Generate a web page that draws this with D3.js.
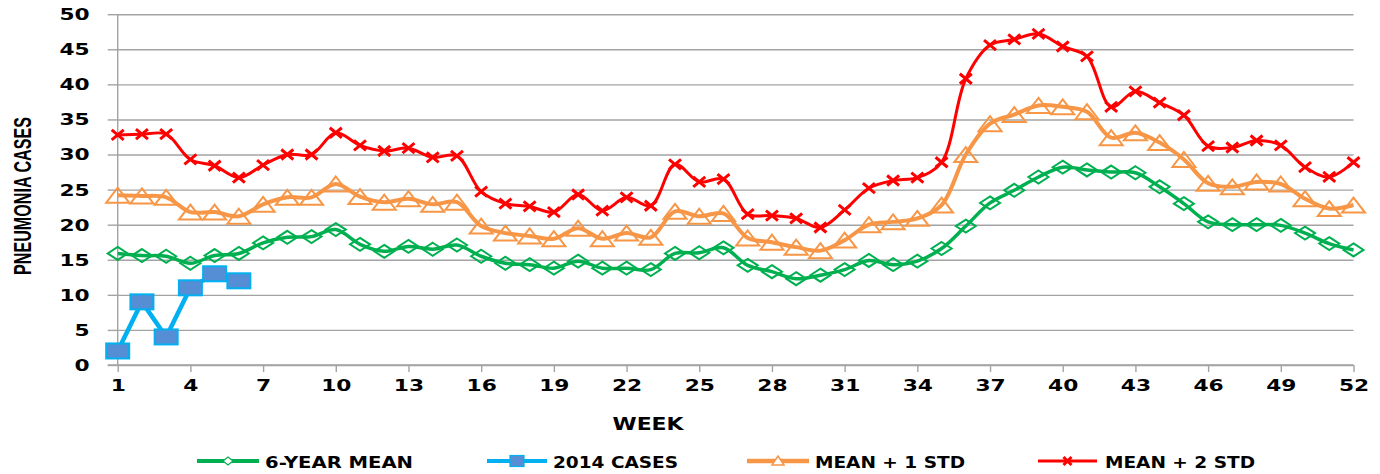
<!DOCTYPE html>
<html>
<head>
<meta charset="utf-8">
<script src="https://cdn.jsdelivr.net/npm/d3@7"></script>
<style>
  html, body { margin: 0; padding: 0; background: #fff; }
  svg { display: block; }
  text { font-family: "DejaVu Sans", Verdana, sans-serif; font-weight: bold; fill: #000; }
</style>
</head>
<body>
<svg id="chart" width="1380" height="474"></svg>
<script>
// ---- DATA ----
const weeks = d3.range(1, 53);
const sixYearMean = [15.9,15.6,15.5,14.5,15.6,15.9,17.4,18.2,18.3,19.3,17.2,16.2,16.9,16.5,17.1,15.5,14.5,14.3,13.8,14.8,13.8,13.8,13.6,15.9,16.0,16.7,14.2,13.3,12.3,12.8,13.6,14.9,14.3,14.8,16.6,19.8,23.1,24.9,26.8,28.2,27.8,27.5,27.4,25.4,23.0,20.4,20.0,20.0,19.9,18.8,17.3,16.4];
const cases2014 = [2,9,4,11,13,12];
const meanPlus1 = [24.2,24.1,23.9,21.8,21.8,21.2,22.9,23.9,23.9,25.8,24.0,23.2,23.7,22.9,23.2,19.8,18.8,18.4,18.0,19.5,18.0,18.8,18.2,21.9,21.2,21.6,18.1,17.5,16.8,16.3,17.8,20.0,20.4,20.9,22.8,30.0,34.4,35.7,37.0,36.8,36.1,32.4,33.1,31.7,29.3,25.9,25.4,26.1,25.8,23.7,22.3,22.8];
const meanPlus2 = [32.8,32.9,32.9,29.3,28.4,26.7,28.5,30.0,30.0,33.1,31.3,30.5,30.9,29.6,29.8,24.7,23.0,22.6,21.8,24.3,22.0,23.9,22.7,28.6,26.1,26.5,21.5,21.3,20.9,19.6,22.1,25.2,26.3,26.7,28.9,40.8,45.6,46.4,47.2,45.4,44.0,36.8,39.0,37.4,35.6,31.2,31.0,32.0,31.3,28.2,26.8,28.9];
const seriesNames = ["6-YEAR MEAN", "2014 CASES", "MEAN + 1 STD", "MEAN + 2 STD"];
const xTickValues = [1,4,7,10,13,16,19,22,25,28,31,34,37,40,43,46,49,52];
const yTickValues = [0,5,10,15,20,25,30,35,40,45,50];
const xTitle = "WEEK";
const yTitle = "PNEUMONIA CASES";

// ---- LAYOUT ----
const svg = d3.select("#chart");
const x = d3.scaleLinear().domain([1, 52]).range([117.7, 1353.5]);
const y = d3.scaleLinear().domain([0, 50]).range([365, 14.2]);
const gridColor = "#a3a3a3";
const stretch = 1.45;

// gridlines
const grid = svg.append("g").attr("transform", `translate(${x(1)},0)`)
  .call(d3.axisLeft(y).tickValues(yTickValues).tickSize(-(x(52) - x(1))).tickFormat(""));
grid.select(".domain").remove();
grid.selectAll("line").attr("stroke", gridColor).attr("stroke-width", 1.4);

// y axis (outer ticks + labels)
const yAx = svg.append("g").attr("transform", `translate(${x(1)},0)`)
  .call(d3.axisLeft(y).tickValues(yTickValues).tickSize(10));
yAx.select(".domain").attr("stroke", gridColor).attr("stroke-width", 1.4).attr("d", `M0,${y(50)}V${y(0)}`);
yAx.selectAll("line").attr("stroke", gridColor).attr("stroke-width", 1.4);
yAx.selectAll("text")
  .attr("x", 0).attr("dy", "0.36em")
  .attr("transform", `translate(-28,0) scale(${stretch},1)`)
  .attr("text-anchor", "end")
  .style("font-size", "15px").style("font-family", "DejaVu Sans").style("font-weight", "bold").attr("fill", "#000");

// x axis
const xAx = svg.append("g").attr("transform", `translate(0,${y(0)})`)
  .call(d3.axisBottom(x).tickValues(xTickValues).tickSize(7).tickFormat(d3.format("d")));
xAx.select(".domain").attr("stroke", gridColor).attr("stroke-width", 1.4).attr("d", `M${x(1) - 10},0H${x(52)}`);
xAx.selectAll("line").attr("stroke", gridColor).attr("stroke-width", 1.4);
xAx.selectAll("text")
  .attr("y", 26).attr("dy", 0)
  .attr("transform", `scale(${stretch},1)`)
  .style("font-size", "15px").style("font-family", "DejaVu Sans").style("font-weight", "bold").attr("fill", "#000");

// axis titles
svg.append("text").attr("x", 648).attr("y", 430).attr("text-anchor", "middle")
  .attr("textLength", 71).attr("lengthAdjust", "spacingAndGlyphs")
  .style("font-size", "17px").text(xTitle);
svg.append("text").attr("transform", "translate(31,196) rotate(-90) scale(1,1.5)")
  .attr("text-anchor", "middle").attr("textLength", 158).attr("lengthAdjust", "spacingAndGlyphs")
  .style("font-family", "Liberation Sans").style("font-size", "16px").text(yTitle);

// ---- SERIES ----
const smooth = d3.line().x((d, i) => x(weeks[i])).y(d => y(d)).curve(d3.curveCatmullRom.alpha(0.5));
const straight = d3.line().x((d, i) => x(weeks[i])).y(d => y(d));

const colors = { green: "#00B050", blue: "#00B0F0", blueFill: "#558ED5", orange: "#F79646", red: "#FF0000" };

const diamond = "M0,-6.5L10,0L0,6.5L-10,0Z";
const triangle = "M0,-7.5L11.5,7.5L-11.5,7.5Z";
const cross = "M-6,-5L6,5M-6,5L6,-5";

// green
svg.append("path").datum(sixYearMean).attr("d", smooth).attr("fill", "none")
  .attr("stroke", colors.green).attr("stroke-width", 3.5);
svg.append("g").selectAll("path").data(sixYearMean).join("path")
  .attr("transform", (d, i) => `translate(${x(weeks[i])},${y(d)})`)
  .attr("d", diamond).attr("fill", "none").attr("stroke", colors.green).attr("stroke-width", 2);

// blue
svg.append("path").datum(cases2014).attr("d", straight).attr("fill", "none")
  .attr("stroke", colors.blue).attr("stroke-width", 4.5).attr("stroke-linejoin", "round");
svg.append("g").selectAll("rect").data(cases2014).join("rect")
  .attr("x", (d, i) => x(weeks[i]) - 11.5).attr("y", d => y(d) - 7.5)
  .attr("width", 23).attr("height", 15)
  .attr("fill", colors.blueFill).attr("stroke", colors.blue).attr("stroke-width", 2);

// orange
svg.append("path").datum(meanPlus1).attr("d", smooth).attr("fill", "none")
  .attr("stroke", colors.orange).attr("stroke-width", 4);
svg.append("g").selectAll("path").data(meanPlus1).join("path")
  .attr("transform", (d, i) => `translate(${x(weeks[i])},${y(d)})`)
  .attr("d", triangle).attr("fill", "none").attr("stroke", colors.orange).attr("stroke-width", 2);

// red
svg.append("path").datum(meanPlus2).attr("d", smooth).attr("fill", "none")
  .attr("stroke", colors.red).attr("stroke-width", 3);
svg.append("g").selectAll("path").data(meanPlus2).join("path")
  .attr("transform", (d, i) => `translate(${x(weeks[i])},${y(d)})`)
  .attr("d", cross).attr("fill", "none").attr("stroke", colors.red).attr("stroke-width", 3);

// ---- LEGEND ----
const legendItems = [
  { name: seriesNames[0], x0: 197, x1: 259, tx: 265, tw: 148, color: colors.green, lw: 4, mark: "diamond" },
  { name: seriesNames[1], x0: 487, x1: 547, tx: 553, tw: 125, color: colors.blue, lw: 4, mark: "square" },
  { name: seriesNames[2], x0: 747, x1: 809, tx: 815, tw: 150, color: colors.orange, lw: 4.5, mark: "triangle" },
  { name: seriesNames[3], x0: 1038, x1: 1097, tx: 1105, tw: 150, color: colors.red, lw: 3, mark: "cross" }
];
const ly = 461;
const lg = svg.append("g");
legendItems.forEach(it => {
  lg.append("line").attr("x1", it.x0).attr("x2", it.x1).attr("y1", ly).attr("y2", ly)
    .attr("stroke", it.color).attr("stroke-width", it.lw);
  const cx = (it.x0 + it.x1) / 2;
  if (it.mark === "diamond") {
    lg.append("path").attr("transform", `translate(${cx},${ly})`).attr("d", "M0,-4L5,0L0,4L-5,0Z")
      .attr("fill", "#fff").attr("stroke", it.color).attr("stroke-width", 1.2);
  } else if (it.mark === "square") {
    lg.append("rect").attr("x", cx - 7).attr("y", ly - 5.5).attr("width", 14).attr("height", 11)
      .attr("fill", colors.blueFill).attr("stroke", it.color).attr("stroke-width", 1.2);
  } else if (it.mark === "triangle") {
    lg.append("path").attr("transform", `translate(${cx},${ly})`).attr("d", "M0,-5L6,4L-6,4Z")
      .attr("fill", "#fff").attr("stroke", it.color).attr("stroke-width", 1.5);
  } else {
    lg.append("path").attr("transform", `translate(${cx},${ly})`).attr("d", "M-4,-4L4,4M-4,4L4,-4")
      .attr("fill", "none").attr("stroke", it.color).attr("stroke-width", 3);
  }
  lg.append("text").attr("x", it.tx).attr("y", ly + 6.5)
    .attr("textLength", it.tw).attr("lengthAdjust", "spacingAndGlyphs")
    .style("font-size", "16px").text(it.name);
});
</script>
</body>
</html>
